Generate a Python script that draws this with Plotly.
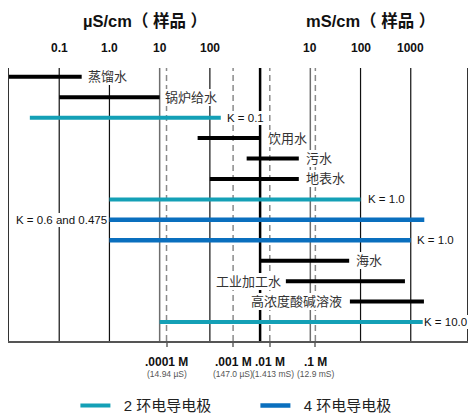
import numpy as np
import plotly.graph_objects as go

# ---------------- data ----------------
row_names = ["蒸馏水", "锅炉给水", "K = 0.1", "饮用水", "污水", "地表水", "K = 1.0",
             "K = 0.6 and 0.475", "K = 1.0", "海水", "工业加工水", "高浓度酸碱溶液", "K = 10.0"]
low_us = [0.01, 0.1, 0.026, 57, 540, 100, 1, 1, 1, 1000, 3260, 61400, 10]
high_us = [0.28, 10, 165, 1000, 5900, 5900, 1e5, 1.86e6, 1e6, 59400, 7.66e5, 1.83e6, 1.73e6]
row_kind = ["sample", "sample", "2ring", "sample", "sample", "sample", "2ring",
            "4ring", "4ring", "sample", "sample", "sample", "2ring"]
label_side = ["right", "right", "right", "right", "right", "right", "right",
              "left", "right", "right", "left", "left", "right"]

decade_us = [0.1, 1, 10, 100, 1000, 1e4, 1e5, 1e6]
decade_text = ["0.1", "1.0", "10", "100", "", "10", "100", "1000"]
molar_line_us = [13.7, 290, 1560, 12600]
molar_text = [".0001 M", ".001 M", ".01 M", ".1 M"]
molar_cond_text = ["(14.94 µS)", "(147.0 µS)", "(1.413 mS)", "(12.9 mS)"]
header_text = ["µS/cm（ 样品 ）", "mS/cm（ 样品 ）"]
legend_names = {"2ring": "2 环电导电极", "4ring": "4 环电导电极"}

# ---------------- styles ----------------
FONT = "Liberation Sans, Arial, Noto Sans CJK SC, sans-serif"
colors = {"sample": "#000000", "2ring": "#14a0b6", "4ring": "#0a6fbe"}
widths = {"sample": 4, "2ring": 4, "4ring": 4.5}
label_gap = [6, 5.5, 6.5, 7.5, 7.5, 7.5, 7.5, 2.5, 6.5, 6.5, 4.5, 7.5, 1.5]
cond_label_shift = [0, 0, 3, 0]
header_left_px = [81, 304]
LEGEND_PAD = "\u00a0\u00a0"

fig = go.Figure()
shown = set()
for i, name in enumerate(row_names):
    k = row_kind[i]
    show = k in legend_names and k not in shown
    if show:
        shown.add(k)
    fig.add_trace(go.Scatter(
        x=np.log10([low_us[i], high_us[i]]), y=[i, i], mode="lines",
        line=dict(color=colors[k], width=widths[k]),
        name=LEGEND_PAD + legend_names[k] if k in legend_names else name,
        legendgroup=k, showlegend=show, hoverinfo="skip"))

shapes = []
for v in decade_us:
    lv = np.log10(v)
    if v == 1000:
        ln = dict(color="#000000", width=2.5)
    elif v in (10, 1e4):
        ln = dict(color="#6e6e6e", width=1.5)
    else:
        ln = dict(color="#111111", width=1.2)
    shapes.append(dict(type="line", xref="x", yref="paper", x0=lv, x1=lv, y0=0, y1=1,
                       line=ln, layer="below"))
for v in molar_line_us:
    lv = np.log10(v)
    shapes.append(dict(type="line", xref="x", yref="paper", x0=lv, x1=lv, y0=0, y1=1,
                       line=dict(color="#8a8a8a", width=1.5, dash="6px,4px"), layer="below"))

annotations = []
for i, name in enumerate(row_names):
    is_k = name.startswith("K")
    if label_side[i] == "right":
        x, anchor, shift = np.log10(high_us[i]), "left", label_gap[i] - 1
    else:
        x, anchor, shift = np.log10(low_us[i]), "right", -(label_gap[i] - 1)
    annotations.append(dict(
        x=x, y=i, xref="x", yref="y", text=name, showarrow=False,
        xanchor=anchor, yanchor="middle", xshift=shift,
        font=dict(family=FONT, size=11.5 if is_k else 13, color="#111" if is_k else "#333"),
        bgcolor="white", borderpad=1, borderwidth=0))

for v, t in zip(decade_us, decade_text):
    if t:
        annotations.append(dict(x=np.log10(v), y=1, xref="x", yref="paper", text=t,
                                showarrow=False, xanchor="center", yanchor="middle", yshift=20,
                                font=dict(family=FONT, size=12, color="#111", weight="bold")))
for v, t, c, s in zip(molar_line_us, molar_text, molar_cond_text, cond_label_shift):
    annotations.append(dict(x=np.log10(v), y=0, xref="x", yref="paper", text=t,
                            showarrow=False, xanchor="center", yanchor="middle", yshift=-20.5,
                            font=dict(family=FONT, size=12, color="#111", weight="bold")))
    annotations.append(dict(x=np.log10(v), y=0, xref="x", yref="paper", text=c,
                            showarrow=False, xanchor="center", yanchor="middle", yshift=-32.5,
                            xshift=s, font=dict(family=FONT, size=8.5, color="#555")))

for t, xp in zip(header_text, header_left_px):
    annotations.append(dict(x=(xp - 9) / 458, y=1, xref="paper", yref="paper", text=t,
                            showarrow=False, xanchor="left", yanchor="middle", yshift=48,
                            font=dict(family=FONT, size=16.5, color="#111", weight="bold")))

fig.update_layout(
    width=470, height=415,
    margin=dict(l=9, r=3, t=68, b=74, autoexpand=False),
    paper_bgcolor="white", plot_bgcolor="white",
    font=dict(family=FONT, color="#222"),
    shapes=shapes, annotations=annotations,
    showlegend=True,
    legend=dict(orientation="h", x=0.145, xanchor="left", y=-0.237, yanchor="middle",
                font=dict(family=FONT, size=15, color="#222"),
                entrywidth=135, entrywidthmode="pixels"),
    xaxis=dict(range=[-2, 7.12], showgrid=False, zeroline=False, showline=True,
               linecolor="#555", linewidth=1.5, ticks="outside", ticklen=4,
               tickcolor="#8a8a8a", tickwidth=1.5, tickvals=np.log10(molar_line_us),
               showticklabels=False, fixedrange=True),
    yaxis=dict(range=[12.93, -0.43], showgrid=False, zeroline=False, showline=True,
               mirror=True, linecolor="#333", linewidth=1.3, showticklabels=False,
               fixedrange=True),
)

fig.write_html("out.html", config={"displayModeBar": False},
               post_script="document.body.style.margin='0';document.body.style.overflow='hidden';")
